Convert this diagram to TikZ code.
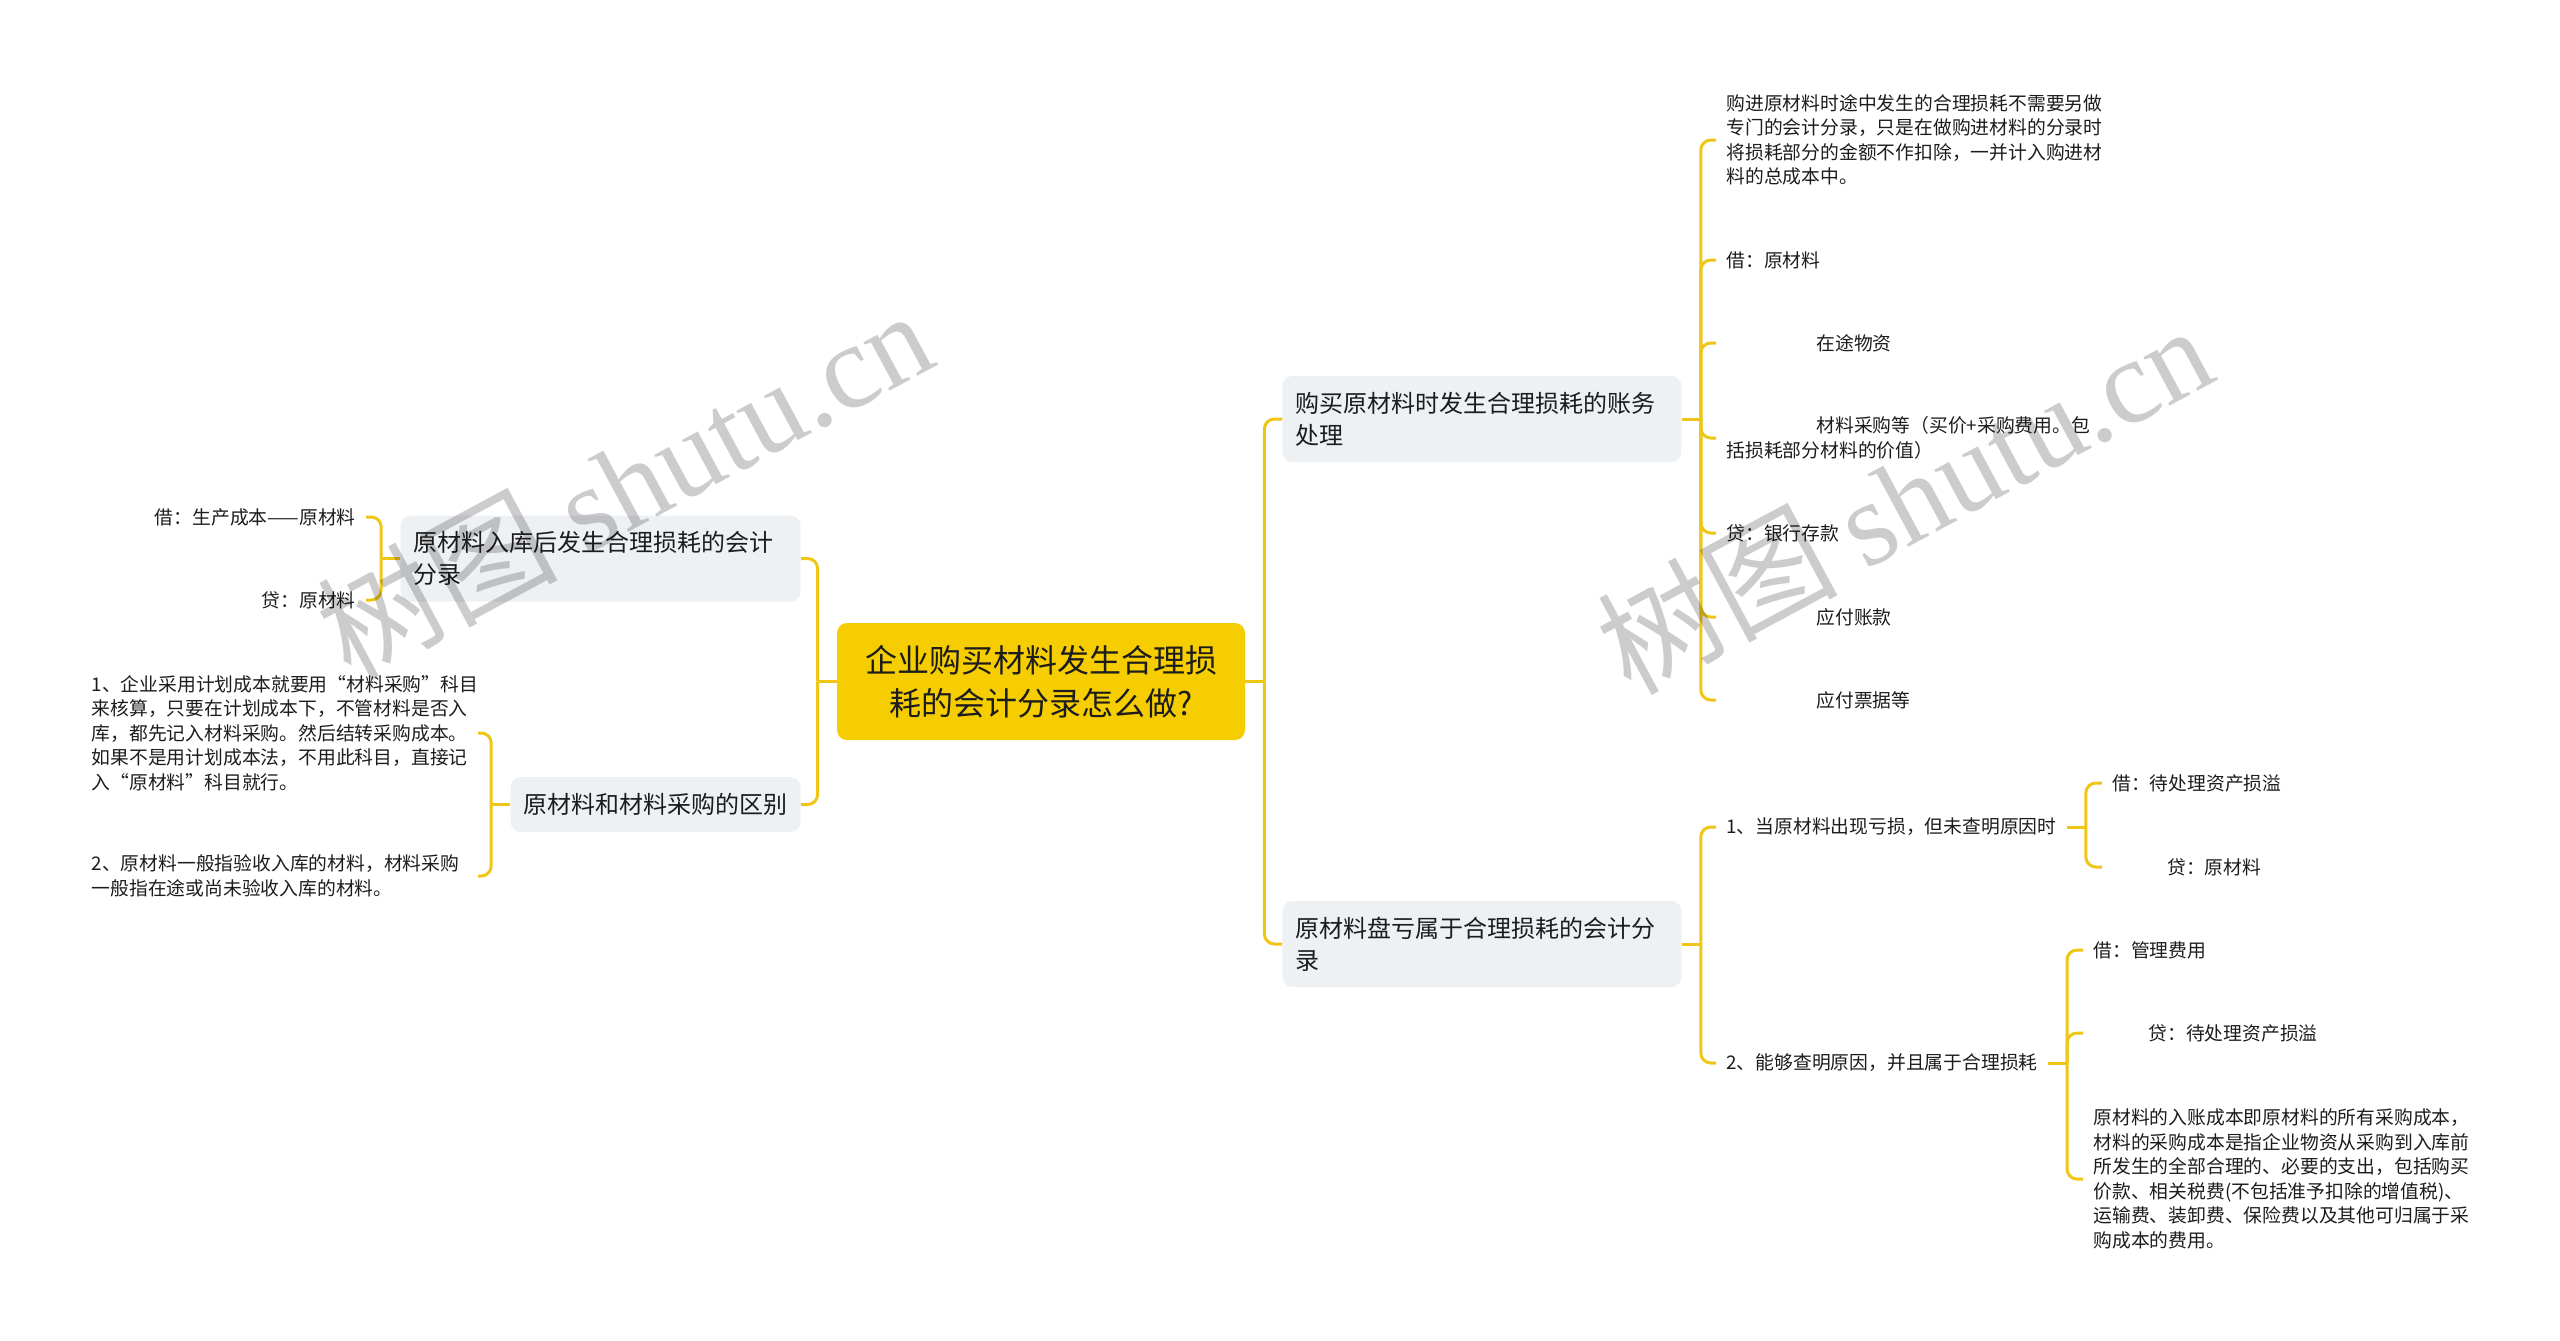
\documentclass[tikz,border=0pt]{standalone}
\usepackage{fontspec}
\setmainfont{Noto Sans CJK SC}
\newfontfamily\wmlatin{Liberation Serif}
\usepackage{tikz}
\usetikzlibrary{calc}

\definecolor{rootyellow}{RGB}{246,205,0}
\definecolor{linkyellow}{RGB}{240,198,22}
\definecolor{topicgray}{RGB}{238,241,244}
\definecolor{inkblack}{RGB}{28,28,28}
\definecolor{wmgray}{RGB}{204,204,204}

\tikzset{
    rootbox/.style={fill=rootyellow, rounded corners=5pt, minimum width=204pt, minimum height=58.5pt, inner sep=0pt, align=center, text=inkblack, font=\fontsize{16}{21.5}\selectfont},
    topicbox/.style={fill=topicgray, rounded corners=5pt, minimum height=43pt, inner xsep=6.5pt, inner ysep=0pt, align=left, text=inkblack, font=\fontsize{12}{16}\selectfont},
    leaf/.style={inner xsep=5pt, inner ysep=0pt, align=left, text=inkblack, font=\fontsize{9.4}{12.25}\selectfont},
    link/.style={draw=linkyellow, line width=1.5pt, rounded corners=5pt},
    wmark/.style={text=wmgray, rotate=28.3, inner sep=0pt, anchor=base west, font=\fontsize{60}{60}\selectfont}
}

\begin{document}
\begin{tikzpicture}[x=0.5pt, y=-0.5pt]
        \useasboundingbox (0, 0) rectangle (2560, 1340);

        \node[rootbox] (root) at (1041, 681.5) {企业购买材料发生合理损\\耗的会计分录怎么做?};

        \node[topicbox, text width=186.5pt, anchor=west] (buy) at (1282, 419) {购买原材料时发生合理损耗的账务\\处理};
        \node[topicbox, text width=186.5pt, anchor=west] (loss) at (1282, 944) {原材料盘亏属于合理损耗的会计分\\录};
        \node[topicbox, text width=187pt, anchor=east] (store) at (801, 558.5) {原材料入库后发生合理损耗的会计\\分录};
        \node[topicbox, minimum height=27.5pt, anchor=east] (diff) at (801, 804.5) {原材料和材料采购的区别};

        \node[leaf, anchor=west] (buy1) at (1716, 140) {购进原材料时途中发生的合理损耗不需要另做\\专门的会计分录，只是在做购进材料的分录时\\将损耗部分的金额不作扣除，一并计入购进材\\料的总成本中。};
        \node[leaf, anchor=west] (buy2) at (1716, 260) {借：原材料};
        \node[leaf, anchor=west] (buy3) at (1716, 343) {\hspace*{45pt}在途物资};
        \node[leaf, anchor=west] (buy4) at (1716, 438) {\hspace*{45pt}材料采购等（买价+采购费用。包\\括损耗部分材料的价值）};
        \node[leaf, anchor=west] (buy5) at (1716, 533) {贷：银行存款};
        \node[leaf, anchor=west] (buy6) at (1716, 617) {\hspace*{45pt}应付账款};
        \node[leaf, anchor=west] (buy7) at (1716, 700) {\hspace*{45pt}应付票据等};

        \node[leaf, anchor=west] (loss1) at (1716, 827) {1、当原材料出现亏损，但未查明原因时};
        \node[leaf, anchor=west] (loss2) at (1716, 1063) {2、能够查明原因，并且属于合理损耗};

        \coordinate (loss1J) at ([xshift=9.5pt]loss1.east);
        \coordinate (loss2J) at ([xshift=9.5pt]loss2.east);

        \node[leaf, anchor=west] (loss1a) at ($(loss1J)+(16, -44)$) {借：待处理资产损溢};
        \node[leaf, anchor=west] (loss1b) at ($(loss1J)+(16, 40)$) {\hspace*{27.5pt}贷：原材料};
        \node[leaf, anchor=west] (loss2a) at ($(loss2J)+(16, -113)$) {借：管理费用};
        \node[leaf, anchor=west] (loss2b) at ($(loss2J)+(16, -30)$) {\hspace*{27.5pt}贷：待处理资产损溢};
        \node[leaf, anchor=west] (loss2c) at ($(loss2J)+(16, 116)$) {原材料的入账成本即原材料的所有采购成本，\\材料的采购成本是指企业物资从采购到入库前\\所发生的全部合理的、必要的支出，包括购买\\价款、相关税费(不包括准予扣除的增值税)、\\运输费、装卸费、保险费以及其他可归属于采\\购成本的费用。};

        \node[leaf, anchor=east] (store1) at (366, 517) {借：生产成本——原材料};
        \node[leaf, anchor=east] (store2) at (366, 600) {贷：原材料};

        \node[leaf, anchor=east, text width=188pt] (diff1) at (478, 733) {1、企业采用计划成本就要用“材料采购”科目\\来核算，只要在计划成本下，不管材料是否入\\库，都先记入材料采购。然后结转采购成本。\\如果不是用计划成本法，不用此科目，直接记\\入“原材料”科目就行。};
        \node[leaf, anchor=east, text width=188pt] (diff2) at (478, 876) {2、原材料一般指验收入库的材料，材料采购\\一般指在途或尚未验收入库的材料。};

        \coordinate (rootR) at ([xshift=9.5pt]root.east);
        \coordinate (rootL) at ([xshift=-9.5pt]root.west);
        \coordinate (buyJ) at ([xshift=9.5pt]buy.east);
        \coordinate (lossJ) at ([xshift=9.5pt]loss.east);
        \coordinate (storeJ) at ([xshift=-9.5pt]store.west);
        \coordinate (diffJ) at ([xshift=-9.5pt]diff.west);

        \draw[link] (root.east) -- (rootR);
        \draw[link] (rootR) |- (buy.west);
        \draw[link] (rootR) |- (loss.west);
        \draw[link] (root.west) -- (rootL);
        \draw[link] (rootL) |- (store.east);
        \draw[link] (rootL) |- (diff.east);

        \draw[link] (buy.east) -- (buyJ);
        \draw[link] (buyJ) |- (buy1.west);
        \draw[link] (buyJ) |- (buy2.west);
        \draw[link] (buyJ) |- (buy3.west);
        \draw[link] (buyJ) |- (buy4.west);
        \draw[link] (buyJ) |- (buy5.west);
        \draw[link] (buyJ) |- (buy6.west);
        \draw[link] (buyJ) |- (buy7.west);

        \draw[link] (loss.east) -- (lossJ);
        \draw[link] (lossJ) |- (loss1.west);
        \draw[link] (lossJ) |- (loss2.west);
        \draw[link] (loss1.east) -- (loss1J);
        \draw[link] (loss1J) |- (loss1a.west);
        \draw[link] (loss1J) |- (loss1b.west);
        \draw[link] (loss2.east) -- (loss2J);
        \draw[link] (loss2J) |- (loss2a.west);
        \draw[link] (loss2J) |- (loss2b.west);
        \draw[link] (loss2J) |- (loss2c.west);

        \draw[link] (store.west) -- (storeJ);
        \draw[link] (storeJ) |- (store1.east);
        \draw[link] (storeJ) |- (store2.east);
        \draw[link] (diff.west) -- (diffJ);
        \draw[link] (diffJ) |- (diff1.east);
        \draw[link] (diffJ) |- (diff2.east);

        \begin{scope}[blend mode=multiply]
            \node[wmark] (wmleft) at (350, 682) {树图 {\wmlatin shutu.cn}};
            \node[wmark] (wmright) at (1630, 697) {树图 {\wmlatin shutu.cn}};
        \end{scope}

    \end{tikzpicture}
\end{document}
